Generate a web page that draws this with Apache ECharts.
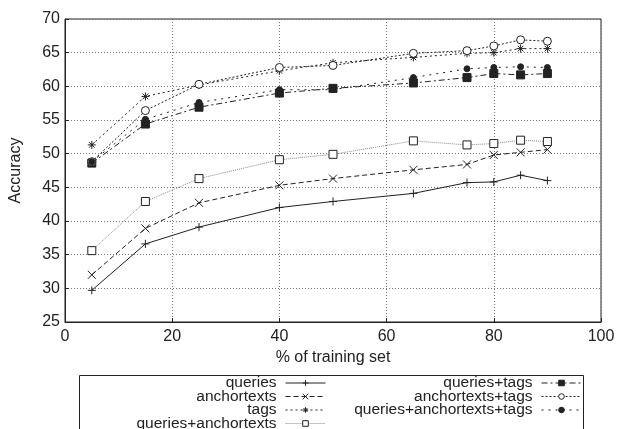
<!DOCTYPE html>
<html>
<head>
<meta charset="utf-8">
<script src="https://cdn.jsdelivr.net/npm/echarts@6/dist/echarts.min.js"></script>
<style>
  html, body { margin: 0; padding: 0; background: #fff; }
  #chart { width: 620px; height: 429px; }
</style>
</head>
<body>
<div id="chart"></div>
<script>
// % of training set
var trainPct = [5, 15, 25, 40, 50, 65, 75, 80, 85, 90];

var queries = [29.7, 36.6, 39.1, 42.0, 42.9, 44.1, 45.7, 45.8, 46.8, 46.0];
var anchortexts = [32.0, 38.9, 42.7, 45.3, 46.3, 47.6, 48.4, 49.8, 50.2, 50.6];
var tags = [51.3, 58.5, 60.2, 62.3, 63.5, 64.3, 64.9, 65.0, 65.6, 65.6];
var queriesAnchortexts = [35.6, 42.9, 46.3, 49.1, 49.9, 51.9, 51.3, 51.5, 52.0, 51.8];
var queriesTags = [48.6, 54.4, 56.9, 59.0, 59.7, 60.5, 61.3, 61.9, 61.7, 61.9];
var anchortextsTags = [48.8, 56.4, 60.3, 62.8, 63.1, 64.9, 65.3, 66.0, 66.9, 66.7];
var queriesAnchortextsTags = [48.8, 55.1, 57.6, 59.5, 59.5, 61.3, 62.6, 62.8, 62.9, 62.8];

var ink = "#222";

// gnuplot-ish point types
var PLUS = "path://M0,5L10,5M5,0L5,10";
var CROSS = "path://M1,1L9,9M9,1L1,9";
var STAR = "path://M0,5L10,5M5,0L5,10M1.5,1.5L8.5,8.5M8.5,1.5L1.5,8.5";

function pair(xs, ys) {
  return xs.map(function (x, i) { return [x, ys[i]]; });
}

function mkSeries(name, values, symbol, size, fill, lineColor, dash) {
  return {
    name: name,
    type: "line",
    data: pair(trainPct, values),
    symbol: symbol,
    symbolSize: size,
    showSymbol: true,
    animation: false,
    lineStyle: { color: lineColor, width: 1, type: dash },
    itemStyle: { color: fill, borderColor: ink, borderWidth: 1 },
    emphasis: { disabled: true }
  };
}

var seriesList = [
  mkSeries("queries", queries, PLUS, 8, ink, ink, "solid"),
  mkSeries("anchortexts", anchortexts, CROSS, 8, ink, ink, [5, 3]),
  mkSeries("tags", tags, STAR, 8, ink, ink, [2, 3]),
  mkSeries("queries+anchortexts", queriesAnchortexts, "rect", 8, "#fff", "#888", [1, 1]),
  mkSeries("queries+tags", queriesTags, "rect", 8, ink, ink, [6, 3, 2, 3]),
  mkSeries("anchortexts+tags", anchortextsTags, "circle", 8, "#fff", ink, [2, 2]),
  mkSeries("queries+anchortexts+tags", queriesAnchortextsTags, "circle", 6, ink, ink, [2, 5])
];

// legend: two right-aligned columns, one legend per entry
var legendCols = [
  ["queries", "anchortexts", "tags", "queries+anchortexts"],
  ["queries+tags", "anchortexts+tags", "queries+anchortexts+tags"]
];
var colRight = [294, 38];
var rowTop = [375, 388.5, 402, 415.5];

var legends = [];
legendCols.forEach(function (col, c) {
  col.forEach(function (name, r) {
    legends.push({
      data: [name],
      right: colRight[c],
      top: rowTop[r],
      align: "right",
      padding: 0,
      itemWidth: 40,
      itemHeight: 7,
      itemGap: 0,
      selectedMode: false,
      lineStyle: { width: 1 },
      itemStyle: { borderWidth: 1 },
      textStyle: { fontFamily: "Liberation Sans", fontSize: 15.5, color: ink, padding: [0, 4, 0, 0] }
    });
  });
});

var chart = echarts.init(document.getElementById("chart"));
chart.setOption({
  backgroundColor: "#fff",
  animation: false,
  textStyle: { fontFamily: "Liberation Sans" },
  grid: {
    left: 64.5, right: 19, top: 19, bottom: 107,
    show: true, borderColor: ink, borderWidth: 1, backgroundColor: "transparent"
  },
  legend: legends,
  xAxis: {
    type: "value",
    min: 0, max: 100, interval: 20,
    name: "% of training set",
    nameLocation: "middle",
    nameGap: 28,
    nameTextStyle: { fontSize: 16, color: ink },
    axisLine: { lineStyle: { color: ink, width: 1 } },
    axisTick: { inside: true, length: 4, lineStyle: { color: ink } },
    axisLabel: { fontSize: 16, color: ink, margin: 7 },
    splitLine: { show: true, lineStyle: { color: "#777", type: [1, 2], width: 1 } }
  },
  yAxis: {
    type: "value",
    min: 25, max: 70, interval: 5,
    name: "Accuracy",
    nameLocation: "middle",
    nameGap: 41,
    nameTextStyle: { fontSize: 16, color: ink },
    axisLine: { show: true, lineStyle: { color: ink, width: 1 } },
    axisTick: { show: true, inside: true, length: 4, lineStyle: { color: ink } },
    axisLabel: { fontSize: 16, color: ink, margin: 5 },
    splitLine: { show: true, lineStyle: { color: "#777", type: [1, 2], width: 1 } }
  },
  graphic: [{
    type: "rect",
    shape: { x: 79.5, y: 375.5, width: 504, height: 70 },
    style: { fill: "none", stroke: ink, lineWidth: 1 },
    silent: true
  }],
  series: seriesList
});
</script>
</body>
</html>
